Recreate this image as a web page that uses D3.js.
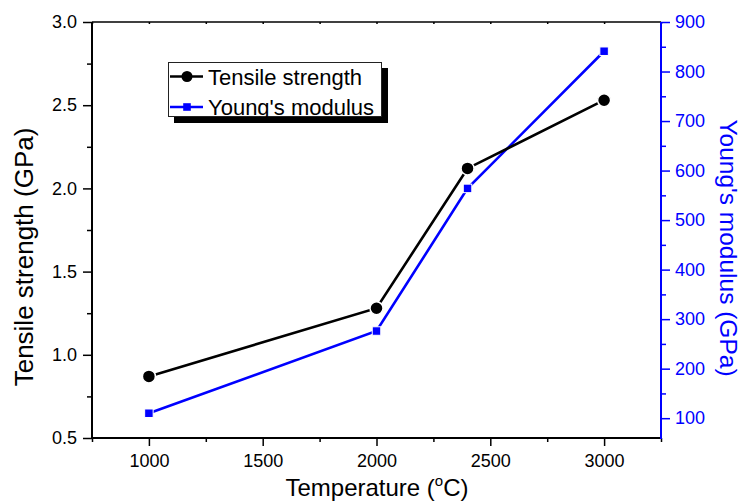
<!DOCTYPE html>
<html>
<head>
<meta charset="utf-8">
<script src="https://cdn.jsdelivr.net/npm/d3@7"></script>
<style>
  html, body { margin: 0; padding: 0; background: #fff; }
  svg { display: block; font-family: Arial, "Liberation Sans", sans-serif; }
</style>
</head>
<body>
<svg id="chart" width="744" height="501"></svg>
<script>
// ---- data ----
const temps = [1000, 2000, 2400, 3000];
const tensile = [0.87, 1.28, 2.12, 2.53];
const modulus = [110, 276, 564, 841];

const xMajorTicks = [1000, 1500, 2000, 2500, 3000];
const xMinorTicks = [750, 1250, 1750, 2250, 2750, 3250];
const yLeftMajor = [0.5, 1.0, 1.5, 2.0, 2.5, 3.0];
const yLeftMinor = [0.75, 1.25, 1.75, 2.25, 2.75];
const yRightMajor = [100, 200, 300, 400, 500, 600, 700, 800, 900];
const yRightMinor = [150, 250, 350, 450, 550, 650, 750, 850];

const seriesNames = ["Tensile strength", "Young's modulus"];
const xTitle = "Temperature (";
const yLeftTitle = "Tensile strength (GPa)";
const yRightTitle = "Young's modulus (GPa)";

// ---- layout ----
const L = 92, R = 661, T = 22, B = 438;
const BLUE = "#0000ff";

const svg = d3.select("#chart");

const x = d3.scaleLinear().domain([750, 3250]).range([L, R]);
const yL = d3.scaleLinear().domain([0.5, 3.0]).range([B, T]);
const yR = d3.scaleLinear().domain([60, 900]).range([B, T]);

function styleAxis(g, color, fs) {
  g.select(".domain").remove();
  g.selectAll(".tick line").attr("stroke", color).attr("stroke-width", 1.5);
  g.selectAll(".tick text").attr("fill", color).attr("font-size", fs)
    .attr("font-family", "Arial, 'Liberation Sans', sans-serif");
}

// bottom axis
svg.append("g").attr("transform", `translate(0,${B})`)
  .call(d3.axisBottom(x).tickValues(xMajorTicks).tickSize(8).tickPadding(8).tickFormat(d3.format("d")))
  .call(g => styleAxis(g, "#000", 18));
svg.append("g").attr("transform", `translate(0,${B})`)
  .call(d3.axisBottom(x).tickValues(xMinorTicks).tickSize(4).tickFormat(""))
  .call(g => styleAxis(g, "#000", 18));

// top axis (tiny inward ticks)
svg.append("g").attr("transform", `translate(0,${T})`)
  .call(d3.axisBottom(x).tickValues(xMajorTicks.concat(xMinorTicks)).tickSize(2).tickFormat(""))
  .call(g => styleAxis(g, "#000", 18));

// left axis
svg.append("g").attr("transform", `translate(${L},0)`)
  .call(d3.axisLeft(yL).tickValues(yLeftMajor).tickSize(9).tickPadding(6).tickFormat(d3.format(".1f")))
  .call(g => styleAxis(g, "#000", 18));
svg.append("g").attr("transform", `translate(${L},0)`)
  .call(d3.axisLeft(yL).tickValues(yLeftMinor).tickSize(5).tickFormat(""))
  .call(g => styleAxis(g, "#000", 18));

// right axis
svg.append("g").attr("transform", `translate(${R},0)`)
  .call(d3.axisRight(yR).tickValues(yRightMajor).tickSize(9).tickPadding(5).tickFormat(d3.format("d")))
  .call(g => styleAxis(g, BLUE, 18));
svg.append("g").attr("transform", `translate(${R},0)`)
  .call(d3.axisRight(yR).tickValues(yRightMinor).tickSize(5).tickFormat(""))
  .call(g => styleAxis(g, BLUE, 18));

// frame lines
svg.append("line").attr("x1", L).attr("x2", R).attr("y1", T).attr("y2", T).attr("stroke", "#000").attr("stroke-width", 1.5);
svg.append("line").attr("x1", L - 1).attr("x2", R).attr("y1", B).attr("y2", B).attr("stroke", "#000").attr("stroke-width", 2);
svg.append("line").attr("x1", L).attr("x2", L).attr("y1", T).attr("y2", B).attr("stroke", "#000").attr("stroke-width", 2);
svg.append("line").attr("x1", R).attr("x2", R).attr("y1", T).attr("y2", B + 1).attr("stroke", BLUE).attr("stroke-width", 2);

// ---- series ----
const tData = temps.map((t, i) => ({ t, v: tensile[i] }));
const mData = temps.map((t, i) => ({ t, v: modulus[i] }));

svg.append("path").datum(mData)
  .attr("fill", "none").attr("stroke", BLUE).attr("stroke-width", 2.6)
  .attr("d", d3.line().x(d => x(d.t)).y(d => yR(d.v)));
svg.append("path").datum(tData)
  .attr("fill", "none").attr("stroke", "#000").attr("stroke-width", 2.6)
  .attr("d", d3.line().x(d => x(d.t)).y(d => yL(d.v)));

const sq = 8.5;
svg.selectAll("rect.mk").data(mData).enter().append("rect").attr("class", "mk")
  .attr("x", d => x(d.t) - sq / 2).attr("y", d => yR(d.v) - sq / 2)
  .attr("width", sq).attr("height", sq)
  .attr("fill", BLUE).attr("stroke", "#fff").attr("stroke-width", 1);
svg.selectAll("circle.mk").data(tData).enter().append("circle").attr("class", "mk")
  .attr("cx", d => x(d.t)).attr("cy", d => yL(d.v)).attr("r", 6.5)
  .attr("fill", "#000").attr("stroke", "#fff").attr("stroke-width", 1.5);

// ---- legend ----
const lg = svg.append("g");
lg.append("rect").attr("x", 174).attr("y", 68).attr("width", 214).attr("height", 55).attr("fill", "#000");
lg.append("rect").attr("x", 168.5).attr("y", 62.5).attr("width", 213).attr("height", 54)
  .attr("fill", "#fff").attr("stroke", "#222").attr("stroke-width", 1);
const rows = [
  { name: seriesNames[0], color: "#000", y: 76.5, shape: "circle" },
  { name: seriesNames[1], color: BLUE, y: 107, shape: "square" }
];
rows.forEach(r => {
  lg.append("line").attr("x1", 170).attr("x2", 203).attr("y1", r.y).attr("y2", r.y)
    .attr("stroke", r.color).attr("stroke-width", 2.4);
  if (r.shape === "circle") {
    lg.append("circle").attr("cx", 187).attr("cy", r.y).attr("r", 5.5).attr("fill", r.color);
  } else {
    lg.append("rect").attr("x", 187 - 3.8).attr("y", r.y - 3.8).attr("width", 7.6).attr("height", 7.6).attr("fill", r.color);
  }
  lg.append("text").attr("x", 208).attr("y", r.y + 8).attr("font-size", 22).attr("fill", "#000").text(r.name);
});

// ---- titles ----
const xt = svg.append("text").attr("x", 377).attr("y", 496).attr("text-anchor", "middle")
  .attr("font-size", 24).attr("fill", "#000");
xt.append("tspan").text(xTitle);
xt.append("tspan").attr("font-size", 15).attr("dy", -10).text("o");
xt.append("tspan").attr("dy", 10).text("C)");

svg.append("text").attr("transform", "translate(33,257) rotate(-90)")
  .attr("text-anchor", "middle").attr("font-size", 26).attr("fill", "#000").text(yLeftTitle);
svg.append("text").attr("transform", "translate(720,248) rotate(90)")
  .attr("text-anchor", "middle").attr("font-size", 24.5).attr("fill", BLUE).text(yRightTitle);
</script>
</body>
</html>
